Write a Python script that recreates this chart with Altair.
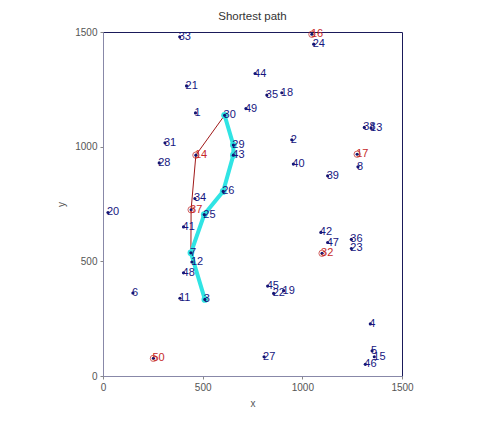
import altair as alt
import pandas as pd

# Node labels and coordinates
node_ids = [1, 2, 3, 4, 5, 6, 7, 8, 11, 12, 13, 14, 15, 16, 17, 18, 19, 20, 21, 22,
            23, 24, 25, 26, 27, 28, 29, 30, 31, 32, 33, 34, 35, 36, 37, 38, 39, 40,
            41, 42, 43, 44, 45, 46, 47, 48, 49, 50]
node_x = [464, 947, 511, 1341, 1350, 150, 441, 1279, 386, 446, 1345, 466, 1361, 1048,
          1275, 897, 906, 25, 419, 856, 1246, 1057, 508, 603, 808, 282, 654, 610, 311,
          1099, 385, 461, 822, 1246, 442, 1311, 1127, 955, 404, 1093, 654, 763, 826,
          1316, 1127, 404, 717, 253]
node_y = [1147, 1030, 334, 227, 110, 362, 537, 912, 339, 497, 1081, 963, 84, 1490,
          967, 1235, 372, 713, 1265, 360, 556, 1447, 704, 805, 84, 929, 1007, 1137,
          1017, 535, 1479, 774, 1225, 596, 725, 1084, 873, 924, 650, 626, 963, 1319,
          392, 51, 582, 450, 1166, 77]
red_nodes = [14, 16, 17, 32, 37, 50]

# Paths (sequences of node ids)
cyan_path = [30, 29, 43, 26, 25, 7, 3]
red_path = [30, 14, 37, 7]

tick_values = [0, 500, 1000, 1500]

pos = {n: (x, y) for n, x, y in zip(node_ids, node_x, node_y)}

nodes = pd.DataFrame({
    "id": node_ids,
    "x": node_x,
    "y": node_y,
    "label": [str(n) for n in node_ids],
    "kind": ["red" if n in red_nodes else "blue" for n in node_ids],
})
cyan_df = pd.DataFrame({
    "x": [pos[n][0] for n in cyan_path],
    "y": [pos[n][1] for n in cyan_path],
    "o": list(range(len(cyan_path))),
})
red_df = pd.DataFrame({
    "x": [pos[n][0] for n in red_path],
    "y": [pos[n][1] for n in red_path],
    "o": list(range(len(red_path))),
})
redpts = nodes[nodes["kind"] == "red"]

xs = alt.Scale(domain=[0, 1500], nice=False, zero=False)
ys = alt.Scale(domain=[0, 1500], nice=False, zero=False)
xax = alt.Axis(values=tick_values, format="d", title="x", grid=False, labelFlush=False)
yax = alt.Axis(values=tick_values, format="d", title="y", grid=False, labelFlush=False)

X = alt.X("x:Q", scale=xs, axis=xax)
Y = alt.Y("y:Q", scale=ys, axis=yax)

red_line = alt.Chart(red_df).mark_line(color="#a01818", strokeWidth=1).encode(
    x=X, y=Y, order="o:Q")
cyan_line = alt.Chart(cyan_df).mark_line(color="#30e4e4", strokeWidth=4).encode(
    x=X, y=Y, order="o:Q")
cyan_pts = alt.Chart(cyan_df).mark_circle(color="#30e4e4", size=45, opacity=1).encode(
    x=X, y=Y)
red_circ = alt.Chart(redpts).mark_point(shape="circle", filled=False, color="#c02020",
                                        size=40, strokeWidth=1).encode(x=X, y=Y)
dots = alt.Chart(nodes).mark_circle(color="#141470", size=10, opacity=1).encode(
    x=X, y=Y)
labels = alt.Chart(nodes).mark_text(align="left", baseline="middle", dx=-1, fontSize=11,
                                    font="Liberation Sans").encode(
    x=X, y=Y, text="label:N",
    color=alt.Color("kind:N", scale=alt.Scale(domain=["blue", "red"],
                                              range=["#161680", "#c62828"]),
                    legend=None))

chart = alt.layer(red_line, cyan_line, cyan_pts, red_circ, dots, labels).properties(
    width=299, height=344,
    title=alt.Title("Shortest path", fontSize=11.5, fontWeight="normal",
                    font="Liberation Sans", color="#333333", offset=5),
    autosize=alt.AutoSizeParams(type="none"),
    padding={"left": 95, "top": 24, "right": 30, "bottom": 40},
).configure_view(
    stroke="#1a1a5a", strokeWidth=1
).configure_axis(
    labelFont="Liberation Sans", titleFont="Liberation Sans",
    labelFontSize=10, titleFontSize=10, titleFontWeight="normal",
    labelColor="#555555", titleColor="#555555",
    domainColor="#8888a8", tickColor="#888888", tickSize=3, labelPadding=3,
).configure_axisX(titlePadding=6).configure_axisY(titlePadding=8)

chart.save("out.html", embed_options={"renderer": "svg", "actions": False})
